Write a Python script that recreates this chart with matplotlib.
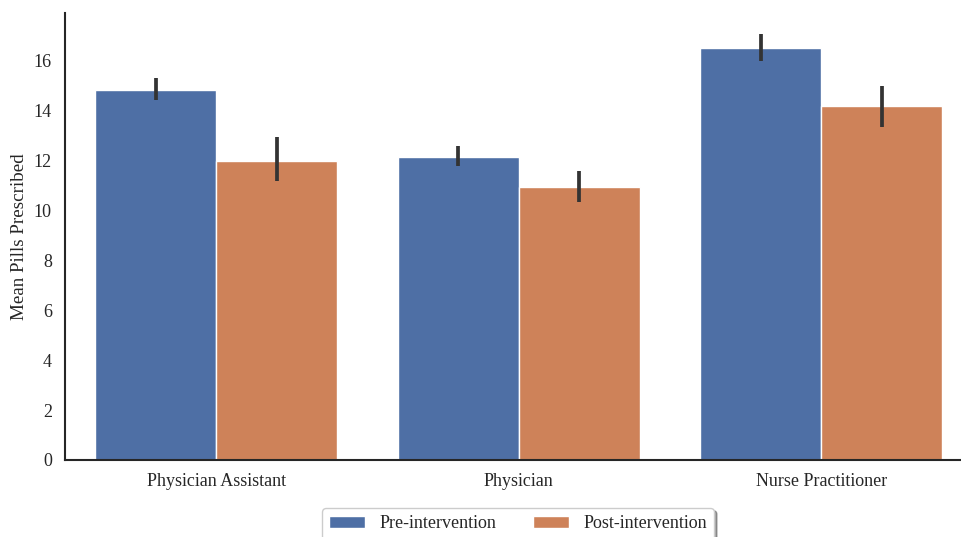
import matplotlib
matplotlib.use("Agg")
import matplotlib.pyplot as plt
import numpy as np
import seaborn as sns

sns.set_theme(style="white")
plt.rcParams['font.family'] = ['Liberation Serif', 'DejaVu Serif']

# data
roles = ["Physician Assistant", "Physician", "Nurse Practitioner"]
groups = ["Pre-intervention", "Post-intervention"]
pre_mean = [14.84, 12.15, 16.52]
pre_lo = [14.43, 11.79, 16.00]
pre_hi = [15.32, 12.59, 17.08]
post_mean = [11.99, 10.95, 14.19]
post_lo = [11.19, 10.34, 13.35]
post_hi = [12.95, 11.59, 15.00]

colors = ["#4E6FA5", "#CE8259"]

fig = plt.figure(figsize=(9.61, 5.37), dpi=100)
ax = fig.add_axes([65 / 961, 1 - 460 / 537, 907.5 / 961, 447 / 537])

x = np.arange(len(roles))
w = 0.4
series = [(pre_mean, pre_lo, pre_hi), (post_mean, post_lo, post_hi)]
for i, (m, lo, hi) in enumerate(series):
    m = np.array(m)
    err = np.vstack([m - np.array(lo), np.array(hi) - m])
    pos = x - w / 2 + i * w
    ax.bar(pos, m, width=w, color=colors[i], edgecolor="white", linewidth=1,
           label=groups[i])
    ax.errorbar(pos, m, yerr=err, fmt="none", ecolor=".2", elinewidth=2.7,
                capsize=0)

ax.set_xlim(-0.5, 2.5)
ax.set_ylim(0, 17.92)
ax.set_xticks(x)
ax.set_xticklabels(roles, fontsize=13)
ax.set_yticks(np.arange(0, 17, 2))
ax.tick_params(axis="y", labelsize=13)
ax.set_ylabel("Mean Pills Prescribed", fontsize=13.7)
sns.despine(ax=ax)
for s in ["left", "bottom"]:
    ax.spines[s].set_color(".15")
    ax.spines[s].set_linewidth(1.5)

fig.legend(loc="upper center", bbox_to_anchor=(518 / 961, 1 - 508 / 537),
           bbox_transform=fig.transFigure, borderaxespad=0, ncol=2,
           fontsize=13, shadow=True, frameon=True, fancybox=True)

fig.savefig("out.png", dpi=100)
